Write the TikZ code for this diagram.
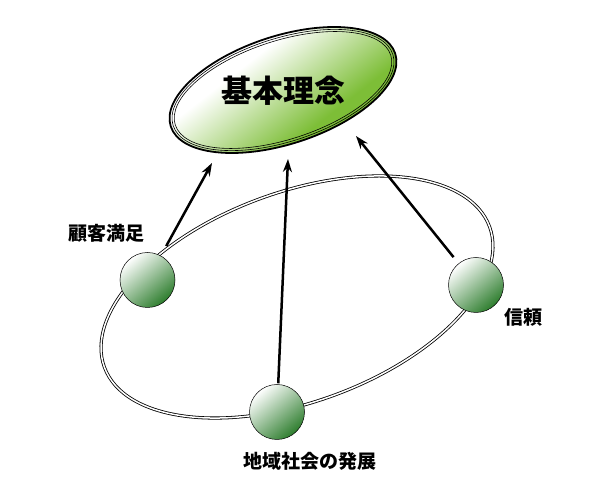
\documentclass[tikz,border=0pt]{standalone}
\usepackage{fontspec}
\newfontfamily\cjk{Noto Sans CJK JP}
\usetikzlibrary{arrows.meta,shapes.geometric}
\definecolor{leafgreen}{RGB}{125,190,55}
\definecolor{ballgreen}{RGB}{45,125,45}
\pgfdeclareverticalshading{ellshade}{100bp}{color(0bp)=(leafgreen); color(40bp)=(leafgreen); color(59bp)=(white); color(100bp)=(white)}
\tikzset{
  ring/.style={draw=black, line width=0.8pt, double=white, double distance=1.5pt},
  mainell/.style={ellipse, draw=black, line width=1.8pt,
    minimum width=236pt, minimum height=108pt, inner sep=0pt},
  innerell/.style={ellipse, draw=black, line width=0.6pt, inner sep=0pt},
  ball/.style={circle, draw=black, line width=0.5pt, minimum size=55pt, inner sep=0pt,
    top color=white, bottom color=ballgreen, shading angle=40},
  lbl/.style={font=\cjk\bfseries\fontsize{19}{19}\selectfont, inner sep=0pt},
  biglbl/.style={font=\cjk\bfseries\fontsize{31}{31}\selectfont, inner sep=0pt},
  arr/.style={line width=2.5pt, -{Stealth[length=13pt,width=9pt]}}
}
\begin{document}
\begin{tikzpicture}[x=1pt,y=1pt]
\useasboundingbox (0,0) rectangle (614,490);
\fill[white] (0,0) rectangle (614,490);
% ring
\draw[ring, rotate around={20:(297,193)}] (297,193) ellipse [x radius=205, y radius=105];
% main ellipse fill
\begin{scope}
  \clip[rotate around={18:(283,400)}] (283,400) ellipse [x radius=118, y radius=54];
  \shade[shading=ellshade, shading angle=38] (163,280) rectangle (403,520);
\end{scope}
\node[mainell, rotate=18] (m) at (283,400) {};
\node[innerell, rotate=18, minimum width=231pt, minimum height=103pt] (m2) at (m.center) {};
\node[innerell, rotate=18, minimum width=226.5pt, minimum height=98.5pt] (m3) at (m.center) {};
\node[biglbl] (mt) at (283,399) {基本理念};
% tips
\coordinate (tl) at (212,327);
\coordinate (tm) at (288,331);
\coordinate (tr) at (356,354);
% balls
\node[ball] (l) at (147.5,210) {};
\node[ball] (r) at (476,205) {};
\node[ball] (b) at (277,78) {};
% arrows
\draw[arr, shorten <=11pt] (l) -- (tl);
\draw[arr, shorten <=8pt] (r) -- (tr);
\draw[arr, shorten <=1pt] (b) -- (tm);
% labels
\node[lbl] (ll) at (106,257) {顧客満足};
\node[lbl] (rl) at (523,173) {信頼};
\node[lbl] (bl) at (310,29) {地域社会の発展};
\end{tikzpicture}
\end{document}
